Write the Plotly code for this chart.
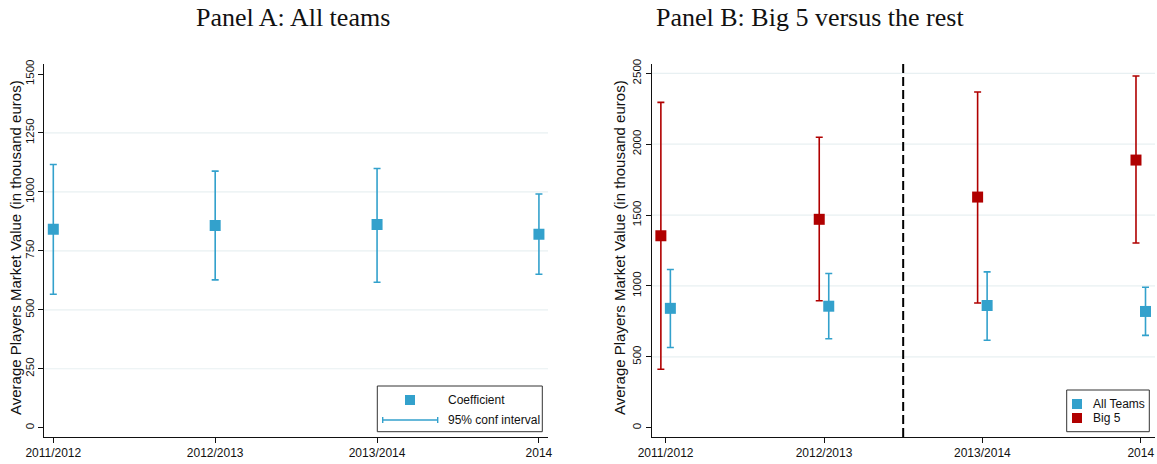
import plotly.graph_objects as go
from plotly.subplots import make_subplots

# ---- data -------------------------------------------------------------
seasons = ["2011/2012", "2012/2013", "2013/2014", "2014"]

all_coef = [842, 857, 862, 820]
all_hi = [1116, 1088, 1099, 991]
all_lo = [566, 627, 617, 651]

big5_coef = [1354, 1470, 1627, 1888]
big5_hi = [2295, 2049, 2368, 2481]
big5_lo = [412, 896, 880, 1303]

yticks_a = [0, 250, 500, 750, 1000, 1250, 1500]
yticks_b = [0, 500, 1000, 1500, 2000, 2500]
grid_a = [250, 500, 750, 1000, 1250]
grid_b = [500, 1000, 1500, 2000, 2500]

# ---- styling ----------------------------------------------------------
W, H = 1157, 464
BLUE = "#33a1cc"
RED = "#b00000"
GRID = "#e8f0f2"
SANS = "Liberation Sans, Arial, sans-serif"
SERIF = "Liberation Serif, Times New Roman, serif"
OFFSET = 0.03


def px(x):
    return x / W


def py(y):
    return 1 - y / H


pos = list(range(len(seasons)))

fig = make_subplots(rows=1, cols=2)

# Panel A: all teams
fig.add_trace(go.Scatter(
    x=pos, y=all_coef, mode="markers",
    marker=dict(symbol="square", size=11, color=BLUE),
    error_y=dict(type="data", symmetric=False,
                 array=[h - c for h, c in zip(all_hi, all_coef)],
                 arrayminus=[c - l for c, l in zip(all_coef, all_lo)],
                 color=BLUE, thickness=1.6, width=3.5),
    showlegend=False), row=1, col=1)

# Panel B: big 5 vs all teams
fig.add_trace(go.Scatter(
    x=[p - OFFSET for p in pos], y=big5_coef, mode="markers",
    marker=dict(symbol="square", size=11, color=RED),
    error_y=dict(type="data", symmetric=False,
                 array=[h - c for h, c in zip(big5_hi, big5_coef)],
                 arrayminus=[c - l for c, l in zip(big5_coef, big5_lo)],
                 color=RED, thickness=1.6, width=3.5),
    showlegend=False), row=1, col=2)
fig.add_trace(go.Scatter(
    x=[p + OFFSET for p in pos], y=all_coef, mode="markers",
    marker=dict(symbol="square", size=11, color=BLUE),
    error_y=dict(type="data", symmetric=False,
                 array=[h - c for h, c in zip(all_hi, all_coef)],
                 arrayminus=[c - l for c, l in zip(all_coef, all_lo)],
                 color=BLUE, thickness=1.6, width=3.5),
    showlegend=False), row=1, col=2)

axis_common = dict(showline=True, linecolor="#111", linewidth=1,
                   ticks="outside", ticklen=5, tickwidth=1, tickcolor="#111",
                   showgrid=False, zeroline=False, automargin=False,
                   tickfont=dict(family=SANS, size=12, color="#111"))

fig.update_xaxes(**axis_common, tickvals=pos, ticktext=seasons)
fig.update_xaxes(domain=[px(44.3), px(548)], range=[-0.0556, 3.056], row=1, col=1)
fig.update_xaxes(domain=[px(652), px(1155)], range=[-0.086, 3.09], row=1, col=2)

fig.update_yaxes(**axis_common, tickangle=-90, domain=[py(437), py(64)])
fig.update_yaxes(tickvals=yticks_a, range=[-39.4, 1542.4], row=1, col=1)
fig.update_yaxes(tickvals=yticks_b, range=[-65.6, 2565.6], row=1, col=2)
fig.update_yaxes(tickfont=dict(size=11.5))

shapes = []
for g in grid_a:
    shapes.append(dict(type="line", xref="x domain", yref="y", x0=0, x1=1,
                       y0=g, y1=g, line=dict(color=GRID, width=1.2), layer="below"))
for g in grid_b:
    shapes.append(dict(type="line", xref="x2 domain", yref="y2", x0=0, x1=1,
                       y0=g, y1=g, line=dict(color=GRID, width=1.2), layer="below"))

# season split marker in panel B
shapes.append(dict(type="line", xref="x2", yref="y2 domain", x0=1.5, x1=1.5,
                   y0=0, y1=1, line=dict(color="black", width=2, dash="9px,4px")))

# legend boxes
shapes.append(dict(type="rect", xref="paper", yref="paper",
                   x0=px(377.3), x1=px(542.3), y0=py(431.7), y1=py(386),
                   line=dict(color="#333", width=1), fillcolor="white"))
shapes.append(dict(type="rect", xref="paper", yref="paper",
                   x0=px(410 - 5), x1=px(410 + 5), y0=py(400 + 5), y1=py(400 - 5),
                   line=dict(width=0), fillcolor=BLUE))
shapes.append(dict(type="line", xref="paper", yref="paper",
                   x0=px(382.7), x1=px(437.7), y0=py(420), y1=py(420),
                   line=dict(color=BLUE, width=1.6)))
for cx in (382.7, 437.7):
    shapes.append(dict(type="line", xref="paper", yref="paper",
                       x0=px(cx), x1=px(cx), y0=py(423), y1=py(417),
                       line=dict(color=BLUE, width=1.4)))

shapes.append(dict(type="rect", xref="paper", yref="paper",
                   x0=px(1066.7), x1=px(1149.3), y0=py(431.7), y1=py(390),
                   line=dict(color="#333", width=1), fillcolor="white"))
for cy, col in ((404, BLUE), (418, RED)):
    shapes.append(dict(type="rect", xref="paper", yref="paper",
                       x0=px(1072), x1=px(1082), y0=py(cy + 5), y1=py(cy - 5),
                       line=dict(width=0), fillcolor=col))

annotations = [
    dict(text="Panel A: All teams", x=px(293), y=py(17), xref="paper", yref="paper",
         xanchor="center", yanchor="middle", showarrow=False,
         font=dict(family=SERIF, size=26, color="#111")),
    dict(text="Panel B: Big 5 versus the rest", x=px(810), y=py(17), xref="paper",
         yref="paper", xanchor="center", yanchor="middle", showarrow=False,
         font=dict(family=SERIF, size=26, color="#111")),
    dict(text="Average Players Market Value (in thousand euros)", x=px(16), y=py(248),
         xref="paper", yref="paper", textangle=-90, xanchor="center",
         yanchor="middle", showarrow=False, font=dict(family=SANS, size=15, color="#111")),
    dict(text="Average Players Market Value (in thousand euros)", x=px(620), y=py(248),
         xref="paper", yref="paper", textangle=-90, xanchor="center",
         yanchor="middle", showarrow=False, font=dict(family=SANS, size=15, color="#111")),
    dict(text="Coefficient", x=px(446), y=py(400), xref="paper", yref="paper",
         xanchor="left", yanchor="middle", showarrow=False,
         font=dict(family=SANS, size=12, color="#111")),
    dict(text="95% conf interval", x=px(446), y=py(420), xref="paper", yref="paper",
         xanchor="left", yanchor="middle", showarrow=False,
         font=dict(family=SANS, size=12, color="#111")),
    dict(text="All Teams", x=px(1091), y=py(404), xref="paper", yref="paper",
         xanchor="left", yanchor="middle", showarrow=False,
         font=dict(family=SANS, size=12, color="#111")),
    dict(text="Big 5", x=px(1091), y=py(418), xref="paper", yref="paper",
         xanchor="left", yanchor="middle", showarrow=False,
         font=dict(family=SANS, size=12, color="#111")),
]

fig.update_layout(width=W, height=H, margin=dict(l=0, r=0, t=0, b=0),
                  paper_bgcolor="white", plot_bgcolor="white",
                  shapes=shapes, annotations=annotations, showlegend=False)

fig.write_html("out.html")
